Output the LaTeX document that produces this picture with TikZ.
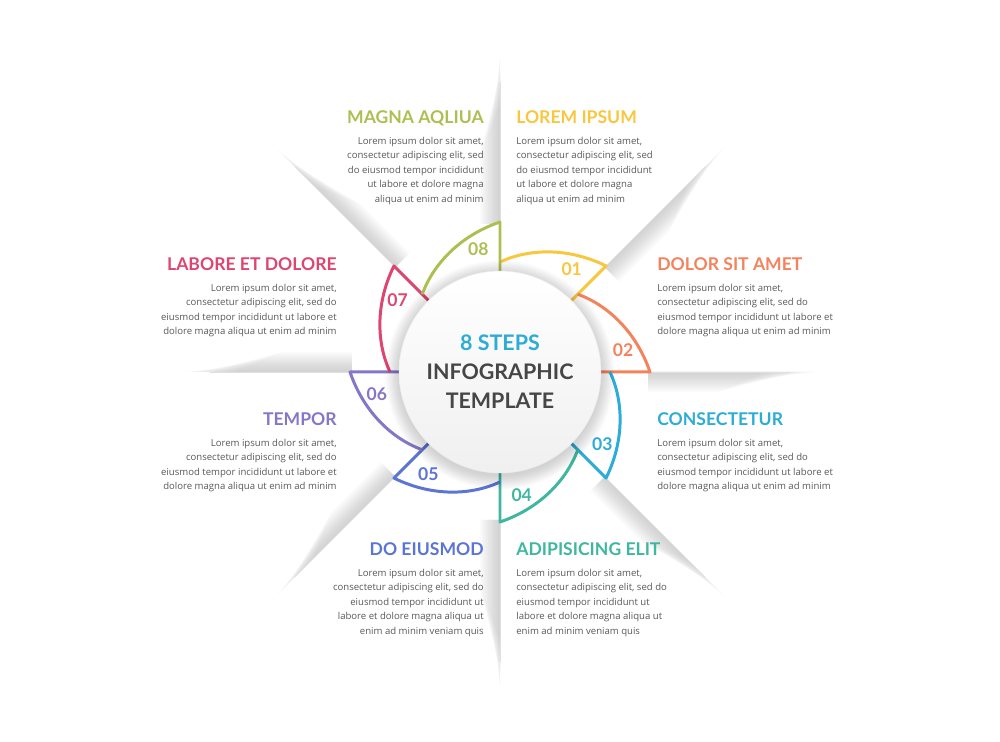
\documentclass[tikz,border=0pt]{standalone}
\usepackage{fontspec}
\setmainfont{Open Sans}
\newfontfamily\latofont{Lato}
\usetikzlibrary{positioning}
\definecolor{StepYellow}{RGB}{248,199,62}
\definecolor{StepOrange}{RGB}{244,130,92}
\definecolor{StepCyan}{RGB}{44,172,214}
\definecolor{StepTeal}{RGB}{62,182,160}
\definecolor{StepBlue}{RGB}{92,116,212}
\definecolor{StepViolet}{RGB}{134,118,200}
\definecolor{StepPink}{RGB}{220,70,112}
\definecolor{StepOlive}{RGB}{175,190,82}
\definecolor{BodyGray}{RGB}{88,88,88}
\definecolor{CoreGray}{RGB}{70,70,70}
\tikzset{
  steptitle/.style={font=\latofont\bfseries\fontsize{10}{12}\selectfont, text=#1, inner sep=0pt},
  stepbody/.style={font=\fontsize{5.45}{8.3}\selectfont, text=BodyGray, align=#1, inner sep=0pt},
  stepbody/.default=left,
  steparc/.style={draw=#1, line width=1.7pt, line join=round},
  stepnum/.style={font=\latofont\bfseries\fontsize{10}{12}\selectfont, text=#1, inner sep=0pt},
  coredisc/.style={circle, minimum size=4.04cm, inner sep=0pt, top color=white, bottom color=black!6,
    draw=black!7, line width=0.3pt, align=center, font=\latofont\bfseries\fontsize{12.2}{16.5}\selectfont,
    text=CoreGray},
}

\begin{document}
\begin{tikzpicture}[x=0.02cm, y=0.02cm]
  \useasboundingbox (-500,-370) rectangle (500,372);
  % folds between the panels
  \foreach \a/\s in {90/1, 45/-1, 0/-1, -45/-1, -90/-1, -135/-1, 180/-1, 135/-1} {
    \begin{scope}[rotate=\a]
      \foreach \i in {1,...,12}
        \fill[black, opacity=0.016] (148,0) -- ({325-5*\i},0) -- ({290-6*\i},{\s*1.7*\i}) -- (148,{\s*1.7*\i}) -- cycle;
      \draw[black!12, line width=0.4pt] (148,0) -- (290,0);
    \end{scope}
  }
  % the eight segments
  \foreach \k/\col in {1/StepYellow, 2/StepOrange, 3/StepCyan, 4/StepTeal,
                       5/StepBlue, 6/StepViolet, 7/StepPink, 8/StepOlive} {
    \pgfmathsetmacro{\ts}{135-45*\k}
    \pgfmathsetmacro{\te}{90-45*\k}
    \draw[steparc=\col] plot[domain=\ts:\te, samples=30, variable=\t] (\t:{110+40*(\ts-\t)/45}) -- (\te:100);
    \node[stepnum=\col] (n\k) at ({\te+10}:125) {0\k};
  }
  % centre disc
  \foreach \i in {1,...,12}
    \fill[black, opacity=0.016] (0,-3) circle ({100+\i*1.2});
  \node[coredisc] (core) at (0,0) {\textcolor{StepCyan}{8 STEPS}\\ INFOGRAPHIC\\ TEMPLATE};

  \node[steptitle=StepYellow, anchor=base west] (t1) at (16,248) {LOREM IPSUM};
  \node[stepbody, below=0.25cm of t1.base west, anchor=north west] (b1)
    {Lorem ipsum dolor sit amet,\\ consectetur adipiscing elit, sed\\ do eiusmod tempor incididunt\\ ut labore et dolore magna\\ aliqua ut enim ad minim};
  \node[steptitle=StepOlive, anchor=base east] (t8) at (-16,248) {MAGNA AQLIUA};
  \node[stepbody=right, below=0.25cm of t8.base east, anchor=north east] (b8)
    {Lorem ipsum dolor sit amet,\\ consectetur adipiscing elit, sed\\ do eiusmod tempor incididunt\\ ut labore et dolore magna\\ aliqua ut enim ad minim};

  \node[steptitle=StepOrange, anchor=base west] (t2) at (157,101) {DOLOR SIT AMET};
  \node[stepbody, below=0.25cm of t2.base west, anchor=north west] (b2)
    {Lorem ipsum dolor sit amet,\\ consectetur adipiscing elit, sed do\\ eiusmod tempor incididunt ut labore et\\ dolore magna aliqua ut enim ad minim};
  \node[steptitle=StepPink, anchor=base east] (t7) at (-163,101) {LABORE ET DOLORE};
  \node[stepbody=right, below=0.25cm of t7.base east, anchor=north east] (b7)
    {Lorem ipsum dolor sit amet,\\ consectetur adipiscing elit, sed do\\ eiusmod tempor incididunt ut labore et\\ dolore magna aliqua ut enim ad minim};

  \node[steptitle=StepCyan, anchor=base west] (t3) at (157,-54) {CONSECTETUR};
  \node[stepbody, below=0.25cm of t3.base west, anchor=north west] (b3)
    {Lorem ipsum dolor sit amet,\\ consectetur adipiscing elit, sed do\\ eiusmod tempor incididunt ut labore et\\ dolore magna aliqua ut enim ad minim};
  \node[steptitle=StepViolet, anchor=base east] (t6) at (-163,-54) {TEMPOR};
  \node[stepbody=right, below=0.25cm of t6.base east, anchor=north east] (b6)
    {Lorem ipsum dolor sit amet,\\ consectetur adipiscing elit, sed do\\ eiusmod tempor incididunt ut labore et\\ dolore magna aliqua ut enim ad minim};

  \node[steptitle=StepTeal, anchor=base west] (t4) at (16,-184) {ADIPISICING ELIT};
  \node[stepbody, below=0.25cm of t4.base west, anchor=north west] (b4)
    {Lorem ipsum dolor sit amet,\\ consectetur adipiscing elit, sed do\\ eiusmod tempor incididunt ut\\ labore et dolore magna aliqua ut\\ enim ad minim veniam quis};
  \node[steptitle=StepBlue, anchor=base east] (t5) at (-16,-184) {DO EIUSMOD};
  \node[stepbody=right, below=0.25cm of t5.base east, anchor=north east] (b5)
    {Lorem ipsum dolor sit amet,\\ consectetur adipiscing elit, sed do\\ eiusmod tempor incididunt ut\\ labore et dolore magna aliqua ut\\ enim ad minim veniam quis};
\end{tikzpicture}
\end{document}
